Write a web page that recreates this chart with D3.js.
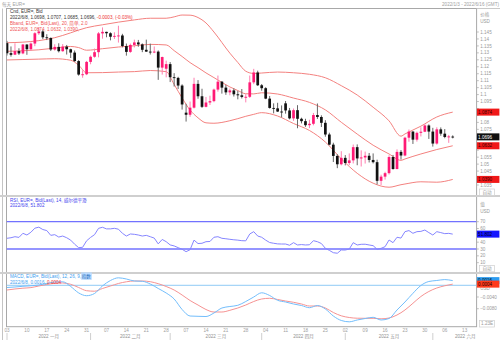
<!DOCTYPE html>
<html><head><meta charset="utf-8">
<script src="https://cdn.jsdelivr.net/npm/d3@7/dist/d3.min.js"></script>
<style>
html,body{margin:0;padding:0;background:#fff;overflow:hidden}
svg{display:block}
text{font-family:"Liberation Sans",Arial,"Noto Sans CJK SC",sans-serif;}
</style></head><body>
<svg id="chart" width="500" height="340"></svg>
<script>
// ---------- DATA ----------
const dates = [
"01-03","01-04","01-05","01-06","01-07","01-10","01-11","01-12","01-13","01-14","01-17","01-18","01-19","01-20","01-21","01-24","01-25","01-26","01-27","01-28","01-31",
"02-01","02-02","02-03","02-04","02-07","02-08","02-09","02-10","02-11","02-14","02-15","02-16","02-17","02-18","02-21","02-22","02-23","02-24","02-25","02-28",
"03-01","03-02","03-03","03-04","03-07","03-08","03-09","03-10","03-11","03-14","03-15","03-16","03-17","03-18","03-21","03-22","03-23","03-24","03-25","03-28","03-29","03-30","03-31",
"04-01","04-04","04-05","04-06","04-07","04-08","04-11","04-12","04-13","04-14","04-15","04-18","04-19","04-20","04-21","04-22","04-25","04-26","04-27","04-28","04-29",
"05-02","05-03","05-04","05-05","05-06","05-09","05-10","05-11","05-12","05-13","05-16","05-17","05-18","05-19","05-20","05-23","05-24","05-25","05-26","05-27","05-30","05-31",
"06-01","06-02","06-03","06-06","06-07","06-08"];

const open = [
1.1370,1.1298,1.1287,1.1313,1.1296, 1.1360,1.1326,1.1367,1.1441,1.1454, 1.1412,1.1407,1.1324,1.1343,1.1312, 1.1345,1.1326,1.1302,1.1241,1.1144, 1.1146,
1.1235,1.1272,1.1305,1.1440, 1.1451,1.1441,1.1416,1.1422,1.1425, 1.1349,1.1307,1.1357,1.1375,1.1361, 1.1322,1.1309,1.1307,1.1309,1.1194, 1.1186,
1.1219,1.1125,1.1120,1.1065, 1.0870,1.0855,1.0906,1.1077,1.0988, 1.0912,1.0943,1.0953,1.1036,1.1093, 1.1050,1.1016,1.1030,1.1002,1.0995, 1.0983,1.0984,1.1088,1.1159,
1.1067, 1.1046,1.0971,1.0904,1.0901,1.0878, 1.0937,1.0886,1.0829,1.0888,1.0826, 1.0809,1.0780,1.0790,1.0853,1.0839, 1.0797,1.0713,1.0640,1.0559,1.0499,
1.0545,1.0508,1.0527,1.0622,1.0541, 1.0548,1.0560,1.0530,1.0514,1.0380, 1.0410,1.0435,1.0551,1.0465,1.0588, 1.0562,1.0690,1.0734,1.0676,1.0725, 1.0733,1.0778,
1.0734,1.0648,1.0750, 1.0719,1.0695,1.0698];
const high = [
1.1386,1.1346,1.1369,1.1333,1.1364, 1.1362,1.1375,1.1449,1.1482,1.1464, 1.1434,1.1411,1.1362,1.1369,1.1363, 1.1357,1.1330,1.1317,1.1248,1.1174, 1.1242,
1.1281,1.1331,1.1450,1.1483, 1.1452,1.1448,1.1448,1.1495,1.1437, 1.1367,1.1367,1.1395,1.1393,1.1368, 1.1395,1.1366,1.1346,1.1318,1.1273, 1.1244,
1.1234,1.1154,1.1128,1.1074, 1.0934,1.0950,1.1121,1.1104,1.1042, 1.0983,1.0992,1.1043,1.1137,1.1097, 1.1070,1.1043,1.1045,1.1027,1.1040, 1.1003,1.1137,1.1185,1.1172,
1.1076, 1.1053,1.0990,1.0937,1.0941,1.0922, 1.0954,1.0904,1.0900,1.0924,1.0834, 1.0826,1.0819,1.0868,1.0936,1.0851, 1.0816,1.0726,1.0654,1.0572,1.0593,
1.0565,1.0577,1.0641,1.0642,1.0599, 1.0590,1.0580,1.0577,1.0532,1.0424, 1.0445,1.0564,1.0566,1.0606,1.0601, 1.0697,1.0749,1.0737,1.0734,1.0765, 1.0787,1.0786,
1.0761,1.0765,1.0764, 1.0752,1.0710,1.0707];
const low = [
1.1281,1.1273,1.1284,1.1285,1.1290, 1.1286,1.1315,1.1348,1.1429,1.1399, 1.1392,1.1313,1.1316,1.1303,1.1308, 1.1288,1.1263,1.1235,1.1136,1.1121, 1.1140,
1.1218,1.1265,1.1268,1.1402, 1.1412,1.1390,1.1400,1.1374,1.1340, 1.1280,1.1300,1.1339,1.1344,1.1305, 1.1307,1.1288,1.1298,1.1106,1.1144, 1.1124,
1.1090,1.1058,1.1040,1.0892, 1.0806,1.0840,1.0900,1.0970,1.0904, 1.0908,1.0925,1.0945,1.1021,1.1007, 1.0998,1.0995,1.0986,1.0966,1.0972, 1.0944,1.0976,1.1075,1.1062,
1.1028, 1.0967,1.0899,1.0865,1.0875,1.0836, 1.0863,1.0822,1.0811,1.0758,1.0793, 1.0768,1.0759,1.0779,1.0825,1.0767, 1.0697,1.0635,1.0515,1.0471,1.0491,
1.0491,1.0493,1.0505,1.0492,1.0483, 1.0504,1.0512,1.0505,1.0354,1.0350, 1.0389,1.0425,1.0460,1.0462,1.0533, 1.0556,1.0661,1.0645,1.0662,1.0699, 1.0730,1.0681,
1.0626,1.0640,1.0704, 1.0686,1.0653,1.0685];
const close = [
1.1297,1.1286,1.1313,1.1296,1.1360, 1.1326,1.1367,1.1441,1.1454,1.1412, 1.1407,1.1324,1.1343,1.1312,1.1345, 1.1326,1.1302,1.1241,1.1144,1.1146, 1.1235,
1.1272,1.1305,1.1440,1.1451, 1.1441,1.1416,1.1422,1.1425,1.1349, 1.1307,1.1357,1.1375,1.1361,1.1322, 1.1309,1.1307,1.1309,1.1194,1.1270, 1.1219,
1.1125,1.1120,1.1065,1.0929, 1.0855,1.0906,1.1077,1.0988,1.0912, 1.0943,1.0953,1.1036,1.1093,1.1050, 1.1016,1.1030,1.1002,1.0995,1.0983, 1.0984,1.1088,1.1159,1.1067,
1.1046, 1.0971,1.0904,1.0901,1.0878,1.0876, 1.0886,1.0829,1.0888,1.0826,1.0809, 1.0780,1.0790,1.0853,1.0839,1.0797, 1.0713,1.0640,1.0559,1.0499,1.0545,
1.0508,1.0527,1.0622,1.0541,1.0548, 1.0560,1.0530,1.0514,1.0380,1.0410, 1.0435,1.0551,1.0465,1.0588,1.0562, 1.0690,1.0734,1.0676,1.0725,1.0733, 1.0778,1.0734,
1.0648,1.0750,1.0719, 1.0695,1.0699,1.0696];

// Bollinger band (20, 2.0) readings at these day indices
const bbIdx    = [0,4,8,12,16,18,20,24,28,32,36,40,42,44,46,48,50,52,56,58,60,62,64,68,72,76,80,84,88,92,96,99,100,104,108,112];
const bbUpper  = [1.1373,1.1377,1.1388,1.1409,1.1444,1.1464,1.1481,1.1502,1.1521,1.1537,1.1549,1.1549,1.1559,1.1572,1.1571,1.1554,1.1515,1.1450,1.1298,1.1231,1.1168,1.1152,1.1155,1.1162,1.1157,1.1146,1.1121,1.1064,1.0997,1.0909,1.0811,1.0701,1.0717,1.0773,1.0839,1.0874];
const bbMiddle = [1.1311,1.1315,1.1322,1.1334,1.1346,1.1338,1.1319,1.1330,1.1342,1.1351,1.1361,1.1357,1.1316,1.1274,1.1230,1.1194,1.1156,1.1122,1.1055,1.1029,1.1006,1.1005,1.1013,1.1004,1.0975,1.0944,1.0890,1.0801,1.0716,1.0636,1.0573,1.0527,1.0537,1.0573,1.0605,1.0632];
const bbLower  = [1.1249,1.1252,1.1255,1.1258,1.1247,1.1211,1.1157,1.1158,1.1162,1.1165,1.1173,1.1165,1.1073,1.0976,1.0889,1.0833,1.0797,1.0794,1.0812,1.0827,1.0844,1.0858,1.0870,1.0846,1.0792,1.0742,1.0659,1.0538,1.0434,1.0363,1.0334,1.0352,1.0357,1.0373,1.0370,1.0390];

// RSI (14, Wilder), one value per day
const rsi = [
45.7,46.5,48,47,53,50.5,54.5,60.5,62,58.5,
57,50,51,47.5,49,46.5,43,37,32,32.5,
42,47,51,60.3,61.8,59.5,59.5,60.3,59,53,
49,52,51.5,50.5,49,50,48,46,37.5,44,
40.7,36,34.5,32,29.6,26.1,29,43,38,38.4,
40.7,41,47.2,48,45.7,45,44.2,43.5,43,42.2,
42,52,55.4,49,47.2,43,39.5,38.4,37.5,37.3,
37.3,35.5,39.3,35.9,36.5,35.9,36.2,42.2,40.7,38,
31,28,24.6,23.8,28.6,28.5,30,39.3,35.9,36.9,
37,35.9,34.9,29.6,31,33.4,43.2,39.3,47.2,46,
55.4,57,53,55.4,55.8,57.8,54,50.5,55.4,54,
52.5,52.9,51.802];

// MACD (12, 26, 9) readings every second day
const macdIdx = d3.range(0, 113, 2);
const macd = [-0.00075,-0.00058,-0.00034,-0.00017,0.0001,0.00062,0.00113,0.0012,-0.0004,-0.0026,-0.00356,-0.0028,-0.0002,0.00164,0.00256,0.00215,0.00147,0.00137,0.00044,-0.00109,-0.00263,-0.00468,-0.00827,-0.0105,-0.0106,-0.01067,-0.00947,-0.00776,-0.00725,-0.00684,-0.00554,-0.004,-0.00256,-0.00349,-0.00513,-0.00571,-0.00639,-0.00691,-0.00766,-0.00691,-0.0081,-0.0105,-0.01203,-0.01248,-0.01186,-0.01135,-0.01094,-0.01186,-0.01135,-0.00844,-0.00571,-0.00274,-0.00007,0.0013,0.00164,0.00195,0.0016];
const signal = [-0.00161,-0.00126,-0.00099,-0.00079,-0.00024,0.00027,0.00068,0.00079,0.00034,-0.00075,-0.00185,-0.00202,-0.00109,-0.00024,0.00062,0.0012,0.00147,0.00147,0.00123,0.00055,-0.00041,-0.00161,-0.00332,-0.0052,-0.00674,-0.00827,-0.00913,-0.00913,-0.00855,-0.00776,-0.00674,-0.00554,-0.00468,-0.00444,-0.00485,-0.00537,-0.00581,-0.00639,-0.00708,-0.00708,-0.00776,-0.0093,-0.01043,-0.01101,-0.01125,-0.01128,-0.01128,-0.01145,-0.01118,-0.01015,-0.00844,-0.00615,-0.00383,-0.00212,-0.00092,-0.00017,0.0004];

// axis labels
const dayTickLabels = ["03","10","17","24","31","07","14","21","28","07","14","21","28","04","11","18","25","02","09","16","23","30","06","13"];
const dayTickIdx    = [0,5,10,15,20,25,30,35,40,45,50,55,60,65,70,75,80,85,90,95,100,105,110,115];
const monthLabels   = ["2022 一月","2022 二月","2022 三月","2022 四月","2022 五月","2022 六月"];
const monthStartIdx = [0,21,41,64,85,107,129];
const priceTicks = [1.145,1.14,1.135,1.13,1.125,1.12,1.115,1.11,1.105,1.1,1.095,1.09,1.085,1.08,1.075,1.07,1.065,1.06,1.055,1.05,1.045,1.04,1.035];
const rsiTicks  = [70,60,50,40,30,20,10];
const rsiLevels = [70,30];
const macdTicks = [0,-0.004,-0.008];

// ---------- DRAW ----------
const svg = d3.select("#chart");
const FS = 4.6;
const PL = 6.5, PR = 476.6;
const main = {top:8.5, bottom:195};
const rsiP = {top:197, bottom:272};
const macP = {top:274, bottom:326.7};
const n = close.length;

const xS = d3.scaleLinear().domain([0,118]).range([7, PR]);
const yP = d3.scaleLinear().domain([1.0278,1.1619]).range([main.bottom, main.top]);
const yR = d3.scaleLinear().domain([0,100]).range([269.5,201.2]);
const yM = d3.scaleLinear().domain([-0.01415,0.00386]).range([macP.bottom, macP.top]);

const defs = svg.append("defs");
[["cm",main],["cr",rsiP],["cd",macP]].forEach(([id,p])=>{
  defs.append("clipPath").attr("id",id).append("rect")
    .attr("x",PL).attr("y",p.top).attr("width",PR-PL).attr("height",p.bottom-p.top);
});

// header
svg.append("text").attr("x",2).attr("y",5.8).attr("font-size",FS).attr("fill","#a0a0a0").text("每天 EUR=");
svg.append("text").attr("x",499).attr("y",5.8).attr("font-size",FS).attr("fill","#a0a0a0").attr("text-anchor","end").text("2022/1/3 - 2022/6/16 (GMT)");

// frames
svg.append("line").attr("x1",2.5).attr("x2",2.5).attr("y1",8.5).attr("y2",340).attr("stroke","#c4c4c4");
svg.append("rect").attr("x",PL).attr("y",main.top).attr("width",PR-PL).attr("height",macP.bottom-main.top)
  .attr("fill","none").attr("stroke","#a8a8a8").attr("stroke-width",1);
svg.append("line").attr("x1",PR).attr("x2",500).attr("y1",main.top).attr("y2",main.top).attr("stroke","#c8c8c8");
[main.bottom, rsiP.bottom].forEach(yy=>{
  svg.append("rect").attr("x",0).attr("y",yy).attr("width",500).attr("height",2).attr("fill","#cfcfcf");
});

// ---- main price panel ----
const gm = svg.append("g").attr("clip-path","url(#cm)");
const bbLine = d3.line().x(d=>xS(d[0])).y(d=>yP(d[1])).curve(d3.curveMonotoneX);
[bbUpper,bbMiddle,bbLower].forEach(arr=>{
  gm.append("path").attr("d",bbLine(bbIdx.map((k,j)=>[k,arr[j]])))
    .attr("fill","none").attr("stroke","#f3817f").attr("stroke-width",1);
});
const idx = d3.range(n);
const up = i => close[i] >= open[i];
gm.selectAll("line.wick").data(idx).join("line").attr("class","wick")
  .attr("x1",i=>xS(i)).attr("x2",i=>xS(i))
  .attr("y1",i=>yP(high[i])).attr("y2",i=>yP(low[i]))
  .attr("stroke",i=>up(i)?"#ff7fb0":"#666").attr("stroke-width",1);
const bw = 2.7;
gm.selectAll("rect.body").data(idx).join("rect").attr("class","body")
  .attr("x",i=>xS(i)-bw/2).attr("width",bw)
  .attr("y",i=>yP(Math.max(open[i],close[i])))
  .attr("height",i=>Math.max(0.9,Math.abs(yP(open[i])-yP(close[i]))))
  .attr("fill",i=>up(i)?"#ff1a75":"#111");

// main legend
const lg = svg.append("g").attr("font-size",FS);
lg.append("text").attr("x",10).attr("y",13.3).attr("fill","#333").text("Cnd, EUR=, Bid");
const l2 = lg.append("text").attr("x",10).attr("y",19);
l2.append("tspan").attr("fill","#333").text("2022/6/8, 1.0698, 1.0707, 1.0685, 1.0696, ");
l2.append("tspan").attr("fill","#ee3333").text("-0.0003, (-0.03%)");
lg.append("text").attr("x",10).attr("y",25).attr("fill","#f05555").text("Bband, EUR=, Bid(Last), 20, 简单, 2.0");
lg.append("text").attr("x",10).attr("y",30.8).attr("fill","#f05555").text("2022/6/8, 1.0874, 1.0632, 1.0390,");

// ---- RSI panel ----
const gr = svg.append("g").attr("clip-path","url(#cr)");
rsiLevels.forEach(v=>{
  gr.append("line").attr("x1",PL).attr("x2",PR).attr("y1",yR(v)).attr("y2",yR(v))
    .attr("stroke","#7272ff").attr("stroke-width",1.3);
});
gr.append("path").attr("d",d3.line().x((d,i)=>xS(i)).y(d=>yR(d))(rsi))
  .attr("fill","none").attr("stroke","#8585ff").attr("stroke-width",1);
svg.append("text").attr("x",10).attr("y",201.6).attr("font-size",FS).attr("fill","#4444ee").text("RSI, EUR=, Bid(Last), 14, 威尔德平滑");
svg.append("text").attr("x",10).attr("y",206.8).attr("font-size",FS).attr("fill","#4444ee").text("2022/6/8, 51.802");

// ---- MACD panel ----
const gd = svg.append("g").attr("clip-path","url(#cd)");
gd.append("line").attr("x1",PL).attr("x2",PR).attr("y1",yM(0)).attr("y2",yM(0))
  .attr("stroke","#8fcaf5").attr("stroke-width",1);
const mLine = d3.line().x(d=>xS(d[0])).y(d=>yM(d[1])).curve(d3.curveMonotoneX);
gd.append("path").attr("d",mLine(macdIdx.map((k,j)=>[k,signal[j]])))
  .attr("fill","none").attr("stroke","#f59292").attr("stroke-width",1);
gd.append("path").attr("d",mLine(macdIdx.map((k,j)=>[k,macd[j]])))
  .attr("fill","none").attr("stroke","#72bdfb").attr("stroke-width",1);
const ml = svg.append("g").attr("font-size",FS);
const hl = ml.append("rect").attr("fill","#bcdcff");
const m1 = ml.append("text").attr("x",10).attr("y",277.6).attr("fill","#3fa0ef").text("MACD, EUR=, Bid(Last), 12, 26, 9, ");
const m1w = m1.node().getComputedTextLength();
const m1b = ml.append("text").attr("x",10+m1w+0.6).attr("y",277.6).attr("fill","#2a6fc0").text("指数");
const bb = m1b.node().getBBox();
hl.attr("x",bb.x-0.5).attr("y",bb.y-0.2).attr("width",bb.width+1).attr("height",bb.height+0.4);
const m2 = ml.append("text").attr("x",10).attr("y",283.6);
m2.append("tspan").attr("fill","#3fa0ef").text("2022/6/8, 0.0016, ");
m2.append("tspan").attr("fill","#ee3333").text("0.0004");

// ---- x axis ----
const xa = svg.append("g").attr("font-size",FS).attr("fill","#a0a0a0");
xa.selectAll("text.d").data(dayTickIdx).join("text").attr("class","d")
  .attr("x",k=>xS(k)).attr("y",331.6).attr("text-anchor","middle").text((k,i)=>dayTickLabels[i]);
monthStartIdx.slice(0,6).forEach((k,i)=>{
  const xs = xS(k);
  xa.append("line").attr("x1",xs).attr("x2",xs).attr("y1",333).attr("y2",340).attr("stroke","#cfcfcf");
  const t = xa.append("text").attr("y",337.8).attr("text-anchor","middle").attr("fill","#909090").text(monthLabels[i]);
  const w = t.node().getComputedTextLength();
  let c = (xs + xS(monthStartIdx[i+1]))/2;
  c = Math.min(c, PR - w/2 - 1);
  t.attr("x",c);
});

// ---- right axes ----
const ra = svg.append("g").attr("font-size",FS).attr("fill","#9a9a9a");
function axisLabels(ticks, scale, boxes, fmt){
  ticks.forEach(v=>{
    const yy = scale(v);
    ra.append("line").attr("x1",PR).attr("x2",PR+2.2).attr("y1",yy).attr("y2",yy).attr("stroke","#b0b0b0").attr("stroke-width",0.8);
    if (boxes.every(b=>Math.abs(scale(b)-yy)>4.5))
      ra.append("text").attr("x",PR+3.6).attr("y",yy+1.6).text(fmt(v));
  });
}
const priceBoxes = [1.0874,1.0696,1.0632,1.0390];
axisLabels(priceTicks, yP, priceBoxes, v=>String(+v.toFixed(3)));
axisLabels(rsiTicks, yR, [51.802], v=>String(v));
axisLabels(macdTicks, yM, [0.0016,0.0004], d3.format(".4f"));
ra.append("text").attr("x",PR+3.6).attr("y",16).text("价格");
ra.append("text").attr("x",PR+3.6).attr("y",23).text("USD");
ra.append("text").attr("x",PR+3.6).attr("y",206).text("值");
ra.append("text").attr("x",PR+3.6).attr("y",213).text("USD");
ra.append("text").attr("x",PR+3.6).attr("y",290).text("USD");

function valBox(yy, txt, fill, tcol){
  svg.append("rect").attr("x",PR+0.3).attr("y",yy-3.5).attr("width",22.5).attr("height",7).attr("fill",fill);
  svg.append("text").attr("x",PR+1.5).attr("y",yy+1.7).attr("font-size",FS).attr("fill",tcol).text(txt);
}
valBox(yP(1.0874),"1.0874","#f01818","#3a0000");
valBox(yP(1.0632),"1.0632","#f01818","#3a0000");
valBox(yP(1.0390),"1.0390","#f01818","#3a0000");
valBox(yP(1.0696),"1.0696","#111111","#ffffff");
valBox(yR(51.802),"51.802","#1515ff","#000022");
valBox(yM(0.0016),"0.0016","#2c9cf0","#001020");
valBox(yM(0.0004),"0.0004","#ff3a1c","#200000");

function smallBtn(yc, txt){
  svg.append("rect").attr("x",PR+3).attr("y",yc-3.2).attr("width",15).attr("height",6.4)
    .attr("fill","#fff").attr("stroke","#cfcfcf").attr("stroke-width",0.7);
  svg.append("text").attr("x",PR+10.5).attr("y",yc+1.6).attr("font-size",FS).attr("fill","#9a9a9a")
    .attr("text-anchor","middle").text(txt);
}
smallBtn(192.2,"自动");
smallBtn(268.6,"自动");
smallBtn(323.8,"1.23E");
</script>
</body></html>
